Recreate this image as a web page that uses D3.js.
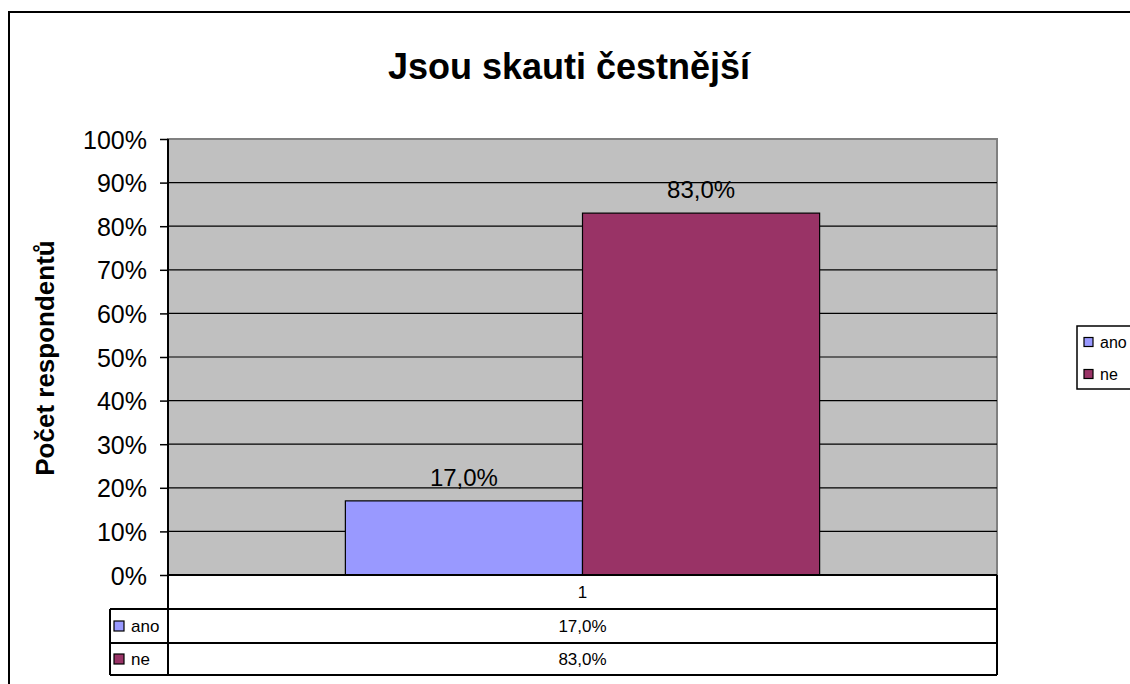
<!DOCTYPE html>
<html>
<head>
<meta charset="utf-8">
<script src="https://cdn.jsdelivr.net/npm/d3@7"></script>
<style>
  html, body { margin: 0; padding: 0; background: #fff; }
  svg { display: block; font-family: "Liberation Sans", Arial, sans-serif; }
</style>
</head>
<body>
<svg id="chart" width="1130" height="684"></svg>
<script>
// Survey result: "Are scouts more honest?"
const chartTitle = "Jsou skauti čestnější";
const yAxisTitle = "Počet respondentů";
const categories = ["1"];
const seriesNames = ["ano", "ne"];
const seriesValues = [0.17, 0.83];
const seriesColors = ["#9999FF", "#993366"];
const yTicks = [0, 0.1, 0.2, 0.3, 0.4, 0.5, 0.6, 0.7, 0.8, 0.9, 1.0];

const fmtPct = v => d3.format(".1%")(v).replace(".", ",");
const fmtTick = v => d3.format(".0%")(v);

const svg = d3.select("#chart");

// Layout of the plot area
const plot = { left: 168, right: 997, top: 139, bottom: 575 };
const tableRows = [575, 609, 643, 675];
const tableLeft = 110;

// Outer chart frame (continues past the right and bottom edges)
svg.append("rect")
  .attr("x", 9).attr("y", 12)
  .attr("width", 1140).attr("height", 690)
  .attr("fill", "#fff").attr("stroke", "#000").attr("stroke-width", 2);

// Title
svg.append("text")
  .attr("x", 569).attr("y", 79)
  .attr("text-anchor", "middle")
  .attr("font-size", 36).attr("font-weight", "bold")
  .text(chartTitle);

// Scales
const y = d3.scaleLinear().domain([0, 1]).range([plot.bottom, plot.top]);
const xCat = d3.scaleBand().domain(categories)
  .range([plot.left, plot.right]).paddingInner(0).paddingOuter(0.374);
const xSeries = d3.scaleBand().domain(seriesNames).range([0, xCat.bandwidth()]);

// Plot background
svg.append("rect")
  .attr("x", plot.left).attr("y", plot.top)
  .attr("width", plot.right - plot.left).attr("height", plot.bottom - plot.top)
  .attr("fill", "#C0C0C0").attr("stroke", "#808080").attr("stroke-width", 2);

// Gridlines
svg.append("g")
  .selectAll("line")
  .data(yTicks.filter(t => t > 0 && t < 1))
  .join("line")
  .attr("x1", plot.left).attr("x2", plot.right)
  .attr("y1", d => y(d)).attr("y2", d => y(d))
  .attr("stroke", "#000").attr("stroke-width", 1.2);

// Bars
const barData = seriesNames.map((s, i) => ({ cat: categories[0], name: s, value: seriesValues[i], color: seriesColors[i] }));
svg.append("g")
  .selectAll("rect")
  .data(barData)
  .join("rect")
  .attr("x", d => xCat(d.cat) + xSeries(d.name))
  .attr("y", d => y(d.value))
  .attr("width", xSeries.bandwidth())
  .attr("height", d => y(0) - y(d.value))
  .attr("fill", d => d.color)
  .attr("stroke", "#000").attr("stroke-width", 1.2);

// Value labels
svg.append("g")
  .selectAll("text")
  .data(barData)
  .join("text")
  .attr("x", d => xCat(d.cat) + xSeries(d.name) + xSeries.bandwidth() / 2)
  .attr("y", d => y(d.value) - 15)
  .attr("text-anchor", "middle")
  .attr("font-size", 24)
  .text(d => fmtPct(d.value));

// Y axis
const yAxis = d3.axisLeft(y).tickValues(yTicks).tickFormat(fmtTick).tickSize(8).tickPadding(13);
const gy = svg.append("g").attr("transform", `translate(${plot.left},0)`).call(yAxis);
gy.select(".domain").attr("stroke", "#000").attr("stroke-width", 2)
  .attr("d", `M0,${plot.top}V${plot.bottom}`);
gy.selectAll(".tick line").attr("stroke", "#000").attr("stroke-width", 1.5);
gy.selectAll(".tick text")
  .attr("font-size", 25).attr("fill", "#000")
  .attr("font-family", "'Liberation Sans', Arial, sans-serif")
  .attr("dy", "0.36em");

// Axis title
svg.append("text")
  .attr("transform", `translate(54,358) rotate(-90)`)
  .attr("text-anchor", "middle")
  .attr("font-size", 26).attr("font-weight", "bold")
  .text(yAxisTitle);

// Data table under the plot
const table = svg.append("g").attr("stroke", "#000").attr("stroke-width", 2).attr("fill", "none");
table.append("line").attr("x1", plot.left).attr("x2", plot.right).attr("y1", tableRows[0]).attr("y2", tableRows[0]);
table.selectAll("line.row")
  .data(tableRows.slice(1))
  .join("line").attr("class", "row")
  .attr("x1", tableLeft).attr("x2", plot.right)
  .attr("y1", d => d).attr("y2", d => d);
table.append("line").attr("x1", plot.left).attr("x2", plot.left).attr("y1", tableRows[0]).attr("y2", tableRows[3]);
table.append("line").attr("x1", plot.right).attr("x2", plot.right).attr("y1", tableRows[0]).attr("y2", tableRows[3]);
table.append("line").attr("x1", tableLeft).attr("x2", tableLeft).attr("y1", tableRows[1]).attr("y2", tableRows[3]);

// Category header row
svg.append("text")
  .attr("x", xCat(categories[0]) + xCat.bandwidth() / 2)
  .attr("y", (tableRows[0] + tableRows[1]) / 2 + 6)
  .attr("text-anchor", "middle").attr("font-size", 17)
  .text(categories[0]);

// Series rows
seriesNames.forEach((s, i) => {
  const top = tableRows[i + 1], bot = tableRows[i + 2];
  const mid = (top + bot) / 2;
  svg.append("rect")
    .attr("x", 114).attr("y", mid - 5).attr("width", 10).attr("height", 10)
    .attr("fill", seriesColors[i]).attr("stroke", "#000").attr("stroke-width", 1.2);
  svg.append("text")
    .attr("x", 131).attr("y", mid + 6).attr("font-size", 17)
    .text(s);
  svg.append("text")
    .attr("x", xCat(categories[0]) + xCat.bandwidth() / 2)
    .attr("y", mid + 6).attr("text-anchor", "middle").attr("font-size", 17)
    .text(fmtPct(seriesValues[i]));
});

// Legend
const legend = svg.append("g");
legend.append("rect")
  .attr("x", 1077).attr("y", 326).attr("width", 80).attr("height", 63)
  .attr("fill", "#fff").attr("stroke", "#000").attr("stroke-width", 1.5);
seriesNames.forEach((s, i) => {
  const cy = 342 + i * 32;
  legend.append("rect")
    .attr("x", 1084).attr("y", cy - 4.5).attr("width", 9).attr("height", 9)
    .attr("fill", seriesColors[i]).attr("stroke", "#000").attr("stroke-width", 1.2);
  legend.append("text")
    .attr("x", 1100).attr("y", cy + 6).attr("font-size", 16)
    .text(s);
});
</script>
</body>
</html>
